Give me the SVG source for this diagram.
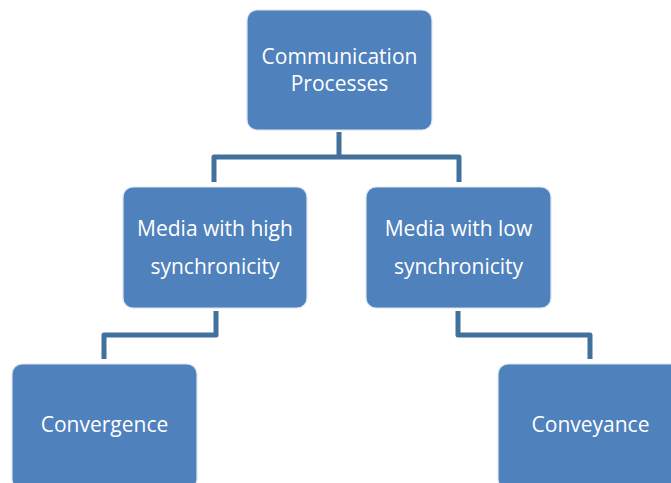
<svg xmlns="http://www.w3.org/2000/svg" width="671" height="483" viewBox="0 0 671 483">
<style>
.box{fill:#4F81BD;stroke:#DCE6F2;stroke-width:1.2}
.t{fill:#FFFFFF;font-family:"Open Sans","Liberation Sans",sans-serif;font-size:21px;text-anchor:middle}
.c{fill:none;stroke:#41719C;stroke-width:5;stroke-linejoin:round}
</style>
<rect width="671" height="483" fill="#FFFFFF"/>
<g id="connectors">
<path class="c" d="M339 132 V157 M214 182 V157 H459 V182"/>
<path class="c" d="M216 311 V335 H104 V359"/>
<path class="c" d="M458 311 V335 H590 V359"/>
</g>
<g id="n1">
<rect class="box" x="247" y="10" width="185" height="120" rx="10"/>
<text class="t" x="339.5" y="64">Communication</text>
<text class="t" x="339.5" y="91">Processes</text>
</g>
<g id="n2">
<rect class="box" x="123" y="187" width="184" height="121" rx="10"/>
<text class="t" x="215" y="236">Media with high</text>
<text class="t" x="215" y="274">synchronicity</text>
</g>
<g id="n3">
<rect class="box" x="366" y="187" width="185" height="121" rx="10"/>
<text class="t" x="458.5" y="236">Media with low</text>
<text class="t" x="458.5" y="274">synchronicity</text>
</g>
<g id="n4">
<rect class="box" x="12" y="364" width="185" height="125" rx="10"/>
<text class="t" x="104.5" y="432">Convergence</text>
</g>
<g id="n5">
<rect class="box" x="498" y="364" width="185" height="125" rx="10"/>
<text class="t" x="590.5" y="432">Conveyance</text>
</g>
</svg>
